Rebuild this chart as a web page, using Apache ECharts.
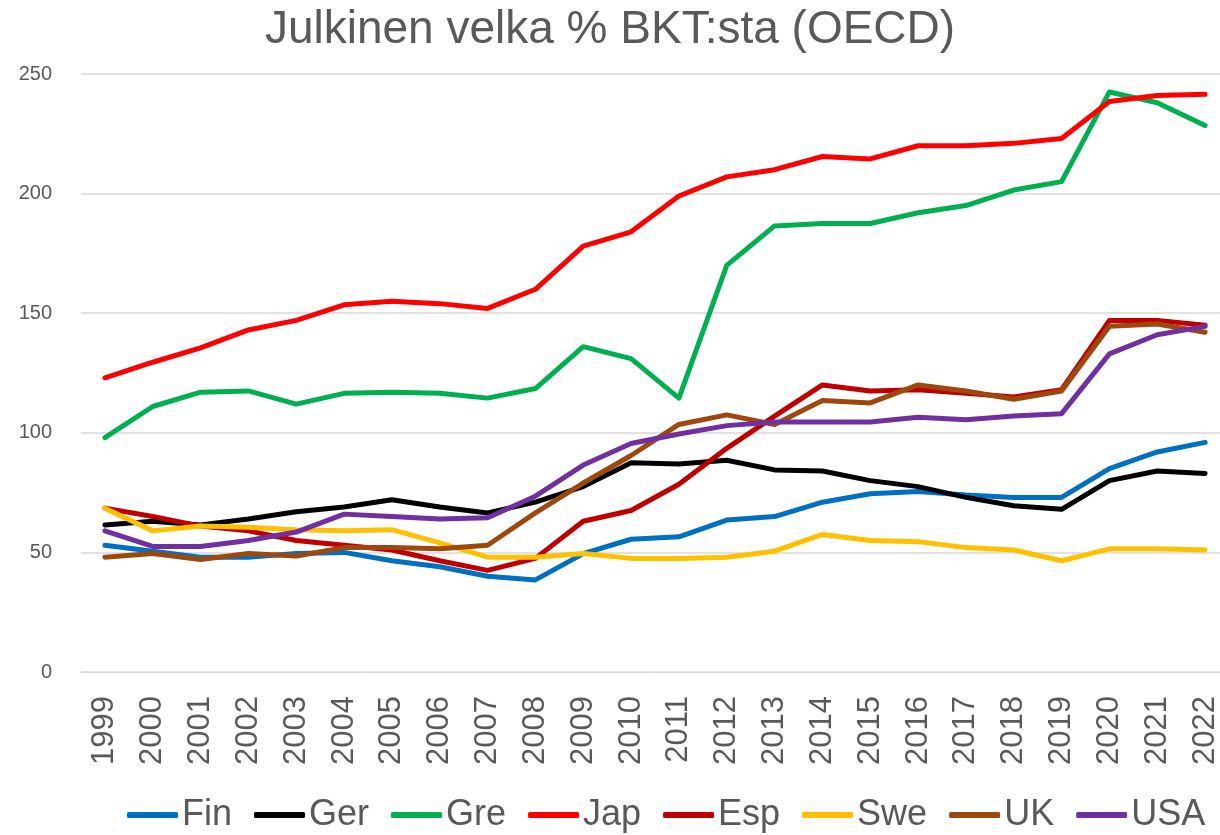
<!DOCTYPE html>
<html>
<head>
<meta charset="utf-8">
<script src="https://cdn.jsdelivr.net/npm/echarts@6/dist/echarts.min.js"></script>
<style>
  html, body { margin: 0; padding: 0; background: #fff; }
  #chart { width: 1220px; height: 835px; }
</style>
</head>
<body>
<div id="chart"></div>
<script>
// vuodet
const years = ['1999','2000','2001','2002','2003','2004','2005','2006','2007','2008','2009','2010',
  '2011','2012','2013','2014','2015','2016','2017','2018','2019','2020','2021','2022']

const fin = [53, 50.5, 48, 48, 49.5, 50, 46.5, 44, 40, 38.5, 49.5, 55.5, 56.5, 63.5, 65, 71, 74.5, 75.5, 74, 73, 73, 85, 92, 96]
const ger = [61.5, 63, 61.5, 64, 67, 69, 72, 69, 66.5, 71, 77.5, 87.5, 87, 88.5, 84.5, 84, 80, 77.5, 73, 69.5, 68, 80, 84, 83]
const gre = [98, 111, 117, 117.5, 112, 116.5, 117, 116.5, 114.5, 118.5, 136, 131, 114.5, 170, 186.5, 187.5, 187.5, 192, 195, 201.5, 205, 242.5, 238, 228.5]
const jap = [123, 129.5, 135.5, 143, 147, 153.5, 155, 154, 152, 160, 178, 184, 199, 207, 210, 215.5, 214.5, 220, 220, 221, 223, 238.5, 241, 241.5]
const esp = [68.5, 65, 61, 59, 55, 53, 51, 46.5, 42.5, 47.5, 63, 67.5, 78.5, 93.5, 107, 120, 117.5, 118, 116.5, 115, 118, 147, 147, 145]
const swe = [68.5, 59, 61, 60.5, 59.5, 59, 59.5, 54, 48, 48, 49.5, 47.5, 47.5, 48, 50.5, 57.5, 55, 54.5, 52, 51, 46.5, 51.5, 51.5, 51]
const uk = [48, 49.5, 47, 49.5, 48.5, 52, 52, 51.5, 53, 66.5, 79, 90.5, 103.5, 107.5, 103.5, 113.5, 112.5, 120, 117.5, 114, 117.5, 144.5, 145.5, 142]
const usa = [59, 52.5, 52.5, 55, 58.5, 66, 65, 64, 64.5, 73.5, 86.5, 95.5, 99.5, 103, 104.5, 104.5, 104.5, 106.5, 105.5, 107, 108, 133, 141, 144.5]

const seriesNames = ['Fin', 'Ger', 'Gre', 'Jap', 'Esp', 'Swe', 'UK', 'USA']
const seriesData = [fin, ger, gre, jap, esp, swe, uk, usa]
const colors = ['#0070C0', '#000000', '#00B050', '#FF0000', '#C00000', '#FFC000', '#9E480E', '#7030A0']

const textColor = '#595959'
const font = 'Liberation Sans'

const chart = echarts.init(document.getElementById('chart'))

chart.setOption({
  animation: false,
  color: colors,
  title: {
    text: 'Julkinen velka % BKT:sta (OECD)',
    left: 'center',
    top: 2,
    textStyle: { color: textColor, fontSize: 46, fontWeight: 'normal', fontFamily: font },
  },
  legend: {
    bottom: -3,
    left: 122,
    icon: 'roundRect',
    itemWidth: 51,
    itemHeight: 6,
    itemGap: 22,
    textStyle: { color: textColor, fontSize: 36, fontFamily: font, padding: [0, 0, 0, -1] },
    data: seriesNames,
  },
  grid: { left: 81, right: -9, top: 74, bottom: 163, outerBoundsMode: 'none' },
  xAxis: {
    type: 'category',
    data: years,
    boundaryGap: true,
    axisLine: { show: true, lineStyle: { color: '#D9D9D9', width: 1 } },
    axisTick: { show: false },
    axisLabel: { rotate: 90, color: textColor, fontSize: 31, fontFamily: font, margin: 24, interval: 0 },
  },
  yAxis: {
    type: 'value',
    min: 0,
    max: 250,
    interval: 50,
    axisLine: { show: false },
    axisTick: { show: false },
    axisLabel: { color: textColor, fontSize: 20, fontFamily: font, margin: 29 },
    splitLine: { lineStyle: { color: '#D9D9D9', width: 1.5 } },
  },
  series: seriesNames.map((name, i) => ({
    name,
    type: 'line',
    data: seriesData[i],
    showSymbol: false,
    symbol: 'none',
    lineStyle: { color: colors[i], width: 5, cap: 'round', join: 'round' },
    itemStyle: { color: colors[i] },
  })),
})
</script>
</body>
</html>
